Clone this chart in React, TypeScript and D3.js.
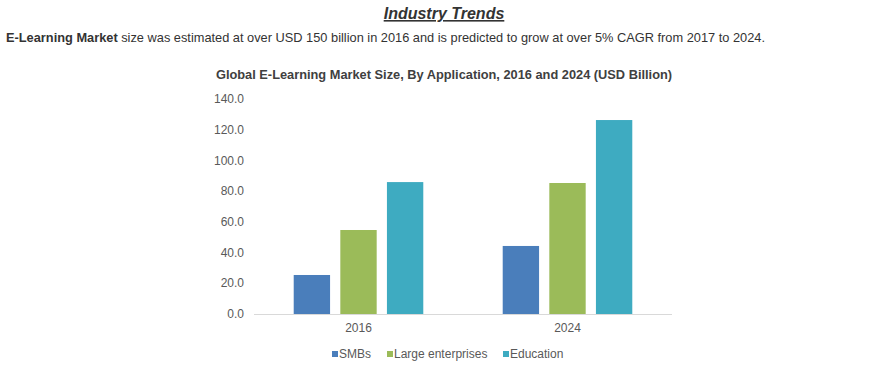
import React from "react";
import * as d3 from "d3";

const categories = ["2016", "2024"];
const seriesNames = ["SMBs", "Large enterprises", "Education"];
const smbs = [25.4, 44.3];
const largeEnterprises = [54.7, 85.3];
const education = [85.9, 126.3];
const yTicks = [0, 20, 40, 60, 80, 100, 120, 140];
const colors = ["#4a7ebb", "#9bbb59", "#3eabc1"];

const W = 888;
const H = 373;
const plot = { left: 254, right: 672, top: 99, bottom: 314 };

export default function App() {
  const values = [smbs, largeEnterprises, education];
  const x0 = d3.scaleBand<string>().domain(categories).range([plot.left, plot.right]).paddingInner(0).paddingOuter(0);
  const x1 = d3
    .scaleBand<string>()
    .domain(seriesNames)
    .range([x0.bandwidth() * 0.19, x0.bandwidth() * 0.81])
    .paddingInner(0.22);
  const y = d3.scaleLinear().domain([0, 140]).range([plot.bottom, plot.top]);
  const font = "'Liberation Sans', Arial, Helvetica, sans-serif";
  const legendX = [332, 387, 503];

  return (
    <svg width={W} height={H} style={{ position: "absolute", left: 0, top: 0, background: "#fff" }} fontFamily={font}>
      <text x={444} y={19} textAnchor="middle" fontSize={16} fontWeight="bold" fontStyle="italic" fill="#333" textDecoration="underline">
        Industry Trends
      </text>
      <text x={6} y={42} fontSize={12.8} fill="#333">
        <tspan fontWeight="bold">E-Learning Market</tspan> size was estimated at over USD 150 billion in 2016 and is predicted to grow at over 5% CAGR from 2017 to 2024.
      </text>
      <text x={444} y={79} textAnchor="middle" fontSize={12.8} fontWeight="bold" fill="#404040">
        Global E-Learning Market Size, By Application, 2016 and 2024 (USD Billion)
      </text>
      {yTicks.map((t) => (
        <text key={t} x={244} y={y(t)} dy="0.35em" textAnchor="end" fontSize={12} fill="#595959">
          {t.toFixed(1)}
        </text>
      ))}
      {categories.map((c, ci) => (
        <g key={c} transform={`translate(${x0(c)},0)`}>
          {seriesNames.map((s, si) => (
            <rect key={s} x={x1(s)} y={y(values[si][ci])} width={x1.bandwidth()} height={y(0) - y(values[si][ci])} fill={colors[si]} />
          ))}
          <text x={x0.bandwidth() / 2} y={332} textAnchor="middle" fontSize={12} fill="#595959">
            {c}
          </text>
        </g>
      ))}
      <line x1={plot.left} x2={plot.right} y1={plot.bottom + 0.5} y2={plot.bottom + 0.5} stroke="#d9d9d9" />
      {seriesNames.map((s, i) => (
        <g key={s}>
          <rect x={legendX[i]} y={351} width={6} height={6} fill={colors[i]} />
          <text x={legendX[i] + 7} y={358} fontSize={12} fill="#595959">
            {s}
          </text>
        </g>
      ))}
    </svg>
  );
}
